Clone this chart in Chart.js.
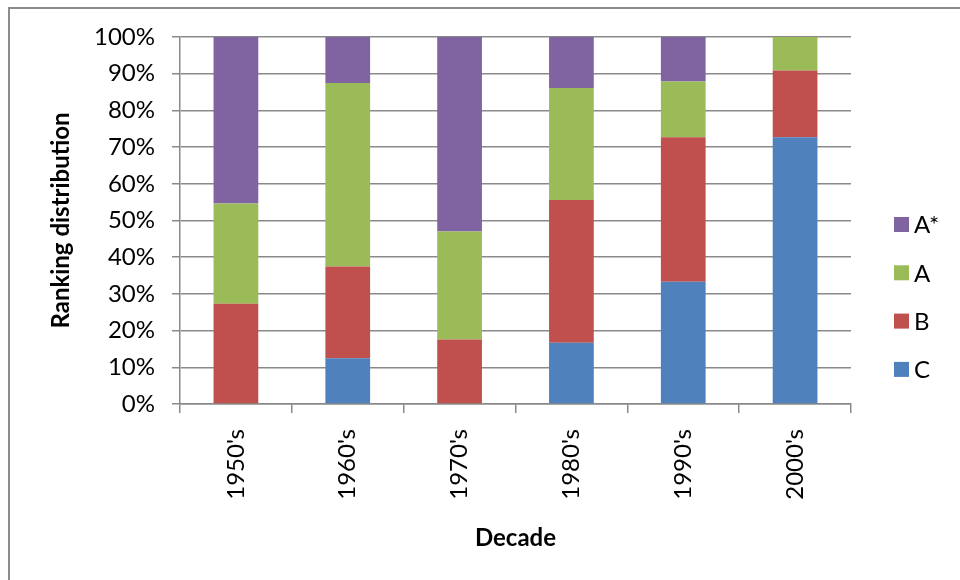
<!DOCTYPE html>
<html>
<head>
<meta charset="utf-8">
<script src="https://cdn.jsdelivr.net/npm/chart.js@4"></script>
<style>
  html, body { margin: 0; padding: 0; background: #fff; overflow: hidden; }
  #wrap { position: relative; width: 960px; height: 580px; }
  #frame { position: absolute; left: 8px; top: 7px; width: 1000px; height: 1000px;
           border: 2px solid #8c8c8c; box-sizing: border-box; pointer-events: none; }
  canvas { position: absolute; left: 0; top: 0; }
</style>
</head>
<body>
<div id="wrap">
  <canvas id="c" width="960" height="580"></canvas>
  <div id="frame"></div>
</div>
<script>
const decades = ["1950's", "1960's", "1970's", "1980's", "1990's", "2000's"];
const seriesC      = [0, 12.5, 0, 16.7, 33.3, 72.7];
const seriesB      = [27.3, 25.0, 17.6, 38.9, 39.4, 18.2];
const seriesA      = [27.3, 50.0, 29.4, 30.5, 15.2, 9.1];
const seriesAStar  = [45.4, 12.5, 53.0, 13.9, 12.1, 0];
const yTicks = [0, 10, 20, 30, 40, 50, 60, 70, 80, 90, 100];

const FONT = "Lato, 'Open Sans', 'DejaVu Sans', sans-serif";

const customLegend = {
  id: 'customLegend',
  afterDraw(chart) {
    const ctx = chart.ctx;
    const items = chart.data.datasets.slice().reverse();
    const x0 = 894, y0 = 224.5, step = 48.3, box = 15;
    ctx.save();
    ctx.font = "24px " + FONT;
    ctx.textBaseline = 'middle';
    ctx.textAlign = 'left';
    items.forEach((ds, i) => {
      const y = y0 + i * step;
      ctx.fillStyle = ds.backgroundColor;
      ctx.fillRect(x0, y - box / 2, box, box);
      ctx.fillStyle = '#000';
      ctx.fillText(ds.label, x0 + 20, y + 1);
    });
    ctx.restore();
  }
};

new Chart(document.getElementById('c'), {
  type: 'bar',
  data: {
    labels: decades,
    datasets: [
      { label: 'C',  data: seriesC,     backgroundColor: '#4F81BD' },
      { label: 'B',  data: seriesB,     backgroundColor: '#C0504D' },
      { label: 'A',  data: seriesA,     backgroundColor: '#9BBB59' },
      { label: 'A*', data: seriesAStar, backgroundColor: '#8064A2' }
    ]
  },
  options: {
    responsive: false,
    animation: false,
    devicePixelRatio: 1,
    layout: { padding: { left: 0, top: 37, right: 109, bottom: 0 } },
    datasets: { bar: { categoryPercentage: 1.0, barPercentage: 0.4, borderWidth: 0 } },
    plugins: {
      legend: { display: false },
      tooltip: { enabled: false }
    },
    scales: {
      x: {
        stacked: true,
        afterFit(scale) { scale.height = 176; },
        grid: {
          display: true, offset: true, drawOnChartArea: false, drawTicks: true,
          tickLength: 9, color: '#8a8a8a', lineWidth: 1.5
        },
        border: { display: true, color: '#8a8a8a', width: 1.5 },
        ticks: {
          minRotation: 90, maxRotation: 90, padding: 16, color: '#000',
          font: { family: FONT, size: 24 }
        },
        title: {
          display: true, text: 'Decade', color: '#000',
          font: { family: FONT, size: 24, weight: 'bold' },
          padding: { top: 0, bottom: 27 }
        }
      },
      y: {
        stacked: true,
        min: 0, max: 100,
        afterFit(scale) { scale.width = 180; },
        afterBuildTicks(scale) { scale.ticks = yTicks.map(v => ({ value: v })); },
        grid: { color: '#8a8a8a', lineWidth: 1.5, tickLength: 8, drawTicks: true },
        border: { display: true, color: '#8a8a8a', width: 1.5 },
        ticks: {
          padding: 17, color: '#000',
          font: { family: FONT, size: 24 },
          callback: v => v + '%'
        },
        title: {
          display: true, text: 'Ranking distribution', color: '#000',
          font: { family: FONT, size: 24, weight: 'bold' },
          padding: { top: 47, bottom: 0 }
        }
      }
    }
  },
  plugins: [customLegend]
});
</script>
</body>
</html>
